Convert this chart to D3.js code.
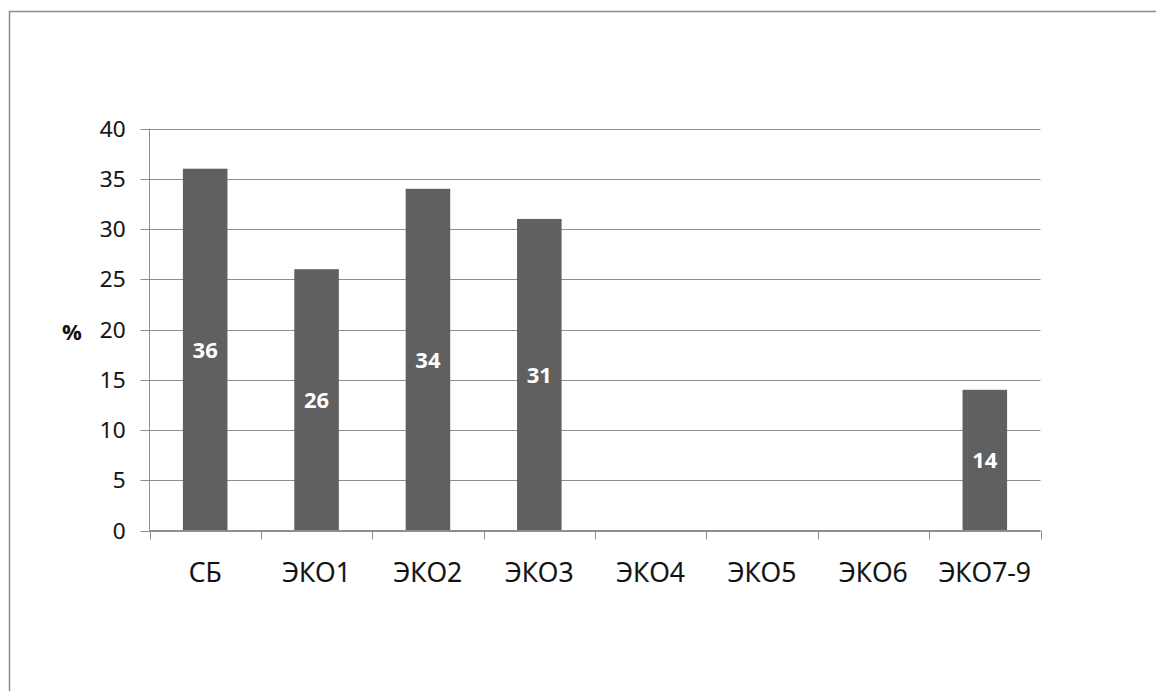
<!DOCTYPE html>
<html>
<head>
<meta charset="utf-8">
<script src="https://cdn.jsdelivr.net/npm/d3@7"></script>
<style>
  html, body { margin: 0; padding: 0; background: #fff; }
  svg { display: block; }
</style>
</head>
<body>
<svg id="chart" width="1156" height="691"></svg>
<script>
// Share of cases per group, %
const categories = ["СБ", "ЭКО1", "ЭКО2", "ЭКО3", "ЭКО4", "ЭКО5", "ЭКО6", "ЭКО7-9"];
const values = [36, 26, 34, 31, 0, 0, 0, 14];
const yTicks = [0, 5, 10, 15, 20, 25, 30, 35, 40];
const yLabel = "%";

const font = "'Open Sans', 'DejaVu Sans', sans-serif";
const svg = d3.select("#chart");

// outer frame of the chart area
svg.append("path")
  .attr("d", "M9.5,691 L9.5,11.5 L1156,11.5")
  .attr("fill", "none")
  .attr("stroke", "#8c8c8c")
  .attr("stroke-width", 1.5);

const plot = { left: 149.5, right: 1040.5, top: 128.5, bottom: 530.5 };

const x = d3.scaleBand()
  .domain(categories)
  .range([plot.left, plot.right])
  .paddingInner(0.6)
  .paddingOuter(0.3);

const y = d3.scaleLinear()
  .domain([0, 40])
  .range([plot.bottom, plot.top]);

// horizontal grid lines with short tick stubs on the left
svg.append("g")
  .selectAll("line")
  .data(yTicks)
  .join("line")
  .attr("x1", plot.left - 9)
  .attr("x2", plot.right)
  .attr("y1", d => Math.round(y(d)) + 0.5)
  .attr("y2", d => Math.round(y(d)) + 0.5)
  .attr("stroke", "#8e8e8e")
  .attr("stroke-width", 1);

// y axis labels
svg.append("g")
  .selectAll("text")
  .data(yTicks)
  .join("text")
  .attr("x", plot.left - 24)
  .attr("y", d => y(d))
  .attr("dy", "0.36em")
  .attr("text-anchor", "end")
  .attr("font-family", font)
  .attr("font-size", 22.5)
  .attr("fill", "#111")
  .attr("stroke", "#111")
  .attr("stroke-width", 0.2)
  .text(d => d);

// vertical axis line
svg.append("line")
  .attr("x1", plot.left).attr("x2", plot.left)
  .attr("y1", plot.top).attr("y2", plot.bottom)
  .attr("stroke", "#8e8e8e");

const barData = categories.map((c, i) => ({ c, v: values[i] })).filter(d => d.v > 0);

// bars
svg.append("g")
  .selectAll("rect")
  .data(barData)
  .join("rect")
  .attr("x", d => x(d.c))
  .attr("width", x.bandwidth())
  .attr("y", d => y(d.v))
  .attr("height", d => y(0) - y(d.v))
  .attr("fill", "#606060");

// value labels inside bars
svg.append("g")
  .selectAll("text")
  .data(barData)
  .join("text")
  .attr("x", d => x(d.c) + x.bandwidth() / 2)
  .attr("y", d => y(d.v / 2))
  .attr("dy", "0.36em")
  .attr("text-anchor", "middle")
  .attr("font-family", font)
  .attr("font-weight", "bold")
  .attr("font-size", 22)
  .attr("fill", "#fff")
  .text(d => d.v);

// x axis baseline and category ticks
const boundaries = d3.range(categories.length + 1)
  .map(i => plot.left + i * (plot.right - plot.left) / categories.length);
svg.append("line")
  .attr("x1", plot.left).attr("x2", plot.right)
  .attr("y1", plot.bottom).attr("y2", plot.bottom)
  .attr("stroke", "#8e8e8e");
svg.append("g")
  .selectAll("line")
  .data(boundaries)
  .join("line")
  .attr("x1", d => Math.round(d) + 0.5)
  .attr("x2", d => Math.round(d) + 0.5)
  .attr("y1", plot.bottom)
  .attr("y2", plot.bottom + 9)
  .attr("stroke", "#8e8e8e");

// category labels
svg.append("g")
  .selectAll("text")
  .data(categories)
  .join("text")
  .attr("x", d => x(d) + x.bandwidth() / 2)
  .attr("y", 582)
  .attr("text-anchor", "middle")
  .attr("font-family", font)
  .attr("font-size", 26.5)
  .attr("fill", "#111")
  .attr("stroke", "#111")
  .attr("stroke-width", 0.2)
  .text(d => d);

// y axis title
svg.append("text")
  .attr("x", 72)
  .attr("y", 332)
  .attr("dy", "0.36em")
  .attr("text-anchor", "middle")
  .attr("font-family", font)
  .attr("font-weight", "bold")
  .attr("font-size", 22)
  .attr("fill", "#111")
  .text(yLabel);
</script>
</body>
</html>
